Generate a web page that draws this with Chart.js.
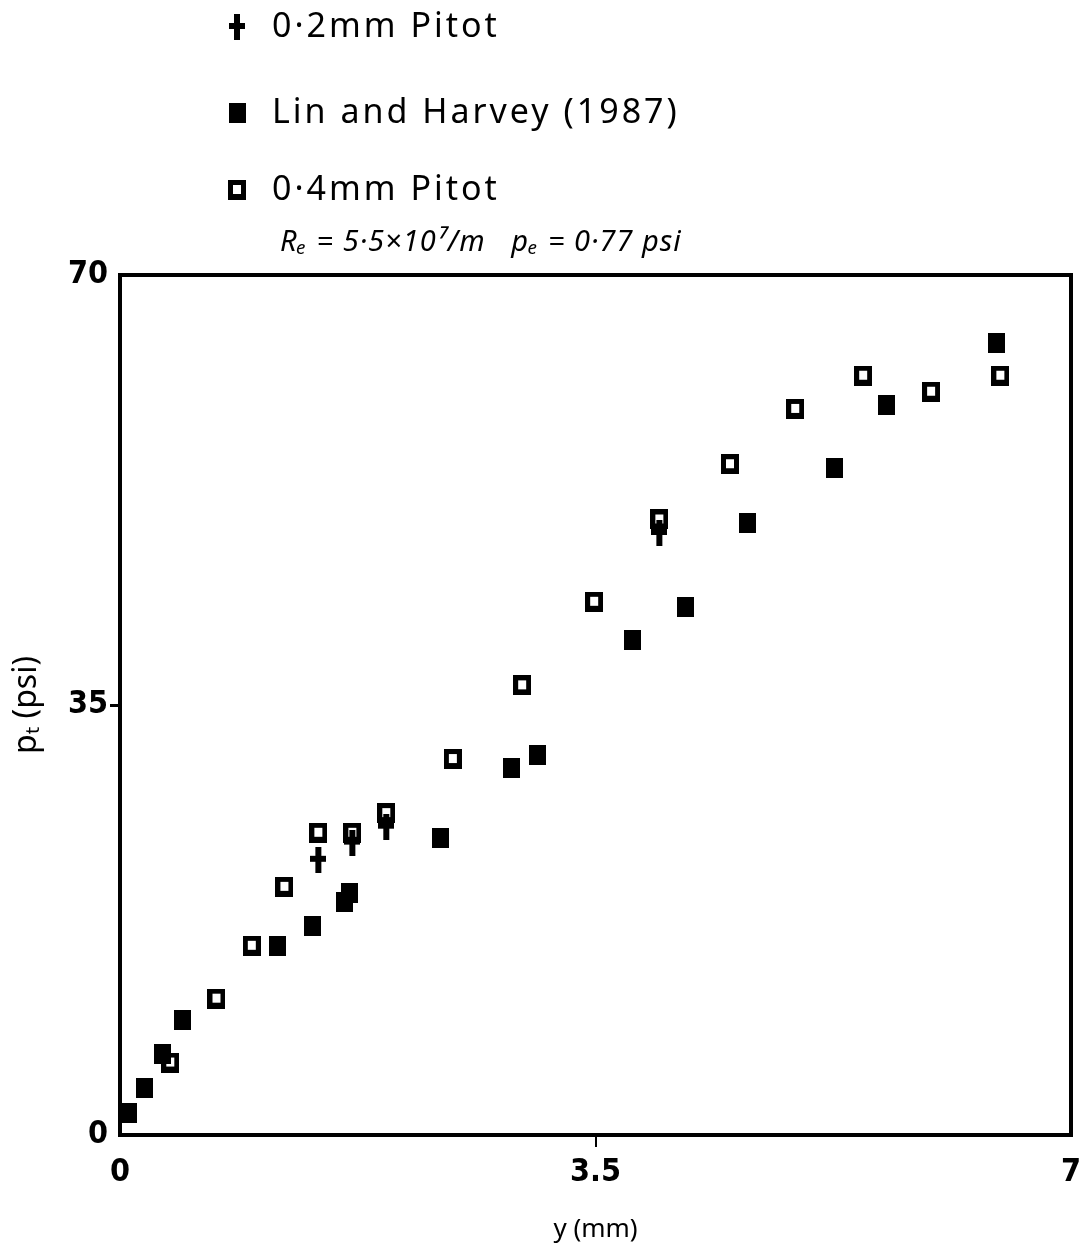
<!DOCTYPE html>
<html>
<head>
<meta charset="utf-8">
<script src="https://cdn.jsdelivr.net/npm/chart.js@4/dist/chart.umd.min.js"></script>
<style>
  html, body { margin: 0; padding: 0; background: #fff; }
  #wrap { width: 1088px; height: 1255px; position: relative; }
</style>
</head>
<body>
<div id="wrap"><canvas id="pitot-chart"></canvas></div>
<script>
// values: y (mm) vs total pressure (psi)
const pitot02X = [1.46, 1.71, 1.96, 3.97];
const pitot02Y = [22.4, 23.8, 25.1, 49.0];

const linHarveyX = [0.06, 0.18, 0.31, 0.46, 1.16, 1.42, 1.65, 1.69, 2.36, 2.88, 3.07, 3.77, 4.16, 4.62, 5.26, 5.64, 6.45];
const linHarveyY = [1.8, 3.8, 6.6, 9.4, 15.4, 17.0, 19.0, 19.7, 24.2, 29.9, 30.9, 40.3, 43.0, 49.8, 54.3, 59.4, 64.5];

const pitot04X = [0.37, 0.71, 0.97, 1.21, 1.46, 1.71, 1.96, 2.45, 2.96, 3.49, 3.97, 4.49, 4.97, 5.47, 5.97, 6.48];
const pitot04Y = [5.9, 11.1, 15.4, 20.2, 24.6, 24.6, 26.2, 30.6, 36.6, 43.4, 50.1, 54.6, 59.1, 61.8, 60.5, 61.8];

const xTicks = [0, 3.5, 7];
const yTicks = [0, 35, 70];
const xTickLabels = ['0', '3.5', '7'];
const yTickLabels = ['0', '35', '70'];

const seriesNames = ['0\u00B72mm Pitot', 'Lin and Harvey (1987)', '0\u00B74mm Pitot'];
const conditionText = 'R\u2091 = 5\u00B75\u00D710\u2077/m   p\u2091 = 0\u00B777 psi';

const ink = '#000';
const tickFamily = '"DejaVu Sans Condensed", "Liberation Sans Narrow", "DejaVu Sans", sans-serif';

const makeMarker = (w, h, draw) => {
  const c = document.createElement('canvas');
  c.width = w;
  c.height = h;
  draw(c.getContext('2d'));
  return c;
};

const filledSquare = makeMarker(17, 20, (ctx) => {
  ctx.fillStyle = ink;
  ctx.fillRect(0, 0, 17, 20);
});

const openSquare = makeMarker(18, 20, (ctx) => {
  ctx.fillStyle = ink;
  ctx.fillRect(0, 0, 18, 20);
  ctx.fillStyle = '#fff';
  ctx.fillRect(5, 5, 8, 9);
});

const crossMark = makeMarker(16, 26, (ctx) => {
  ctx.fillStyle = ink;
  ctx.fillRect(5, 0, 6, 26);
  ctx.fillRect(0, 9, 16, 6);
});

const toPoints = (xs, ys) => xs.map((x, i) => ({ x, y: ys[i] }));

const frameAndLegend = {
  id: 'frameAndLegend',
  afterDraw(chart) {
    const { ctx, chartArea } = chart;
    ctx.save();
    ctx.strokeStyle = ink;
    ctx.lineWidth = 4;
    ctx.strokeRect(chartArea.left, chartArea.top, chartArea.right - chartArea.left, chartArea.bottom - chartArea.top);

    const rows = [
      { img: crossMark, y: 27 },
      { img: filledSquare, y: 113 },
      { img: openSquare, y: 190 },
    ];
    ctx.fillStyle = ink;
    ctx.textBaseline = 'middle';
    ctx.font = '34px "Noto Sans"';
    ctx.letterSpacing = '3px';
    rows.forEach((row, i) => {
      ctx.drawImage(row.img, 237 - row.img.width / 2, row.y - row.img.height / 2);
      ctx.fillText(seriesNames[i], 272, row.y);
    });
    ctx.font = 'italic 29px "Noto Sans"';
    ctx.letterSpacing = '1px';
    ctx.fillText(conditionText, 280, 243);
    ctx.restore();
  },
};

const tickColor = (ctx, inner) =>
  ctx.tick && inner.includes(ctx.tick.value) ? ink : 'rgba(0,0,0,0)';

new Chart(document.getElementById('pitot-chart'), {
  type: 'scatter',
  data: {
    datasets: [
      {
        label: seriesNames[0],
        data: toPoints(pitot02X, pitot02Y),
        pointStyle: crossMark,
      },
      {
        label: seriesNames[1],
        data: toPoints(linHarveyX, linHarveyY),
        pointStyle: filledSquare,
      },
      {
        label: seriesNames[2],
        data: toPoints(pitot04X, pitot04Y),
        pointStyle: openSquare,
      },
    ],
  },
  options: {
    responsive: true,
    maintainAspectRatio: false,
    animation: false,
    layout: {
      padding: { left: 0, right: 17, top: 275, bottom: 0 },
    },
    plugins: {
      legend: { display: false },
      tooltip: { enabled: false },
    },
    scales: {
      x: {
        type: 'linear',
        min: 0,
        max: 7,
        afterBuildTicks: (scale) => {
          scale.ticks = xTicks.map((value) => ({ value }));
        },
        afterFit: (scale) => {
          scale.height = 120;
        },
        grid: {
          drawOnChartArea: false,
          tickLength: 12,
          lineWidth: 2,
          color: (ctx) => tickColor(ctx, [3.5]),
        },
        border: { display: false },
        ticks: {
          padding: 6,
          color: ink,
          maxRotation: 0,
          font: { family: tickFamily, weight: 'bold', size: 32 },
          callback: (value) => xTickLabels[xTicks.indexOf(value)],
        },
        title: {
          display: true,
          text: 'y (mm)',
          color: ink,
          font: { family: 'Noto Sans', size: 26 },
          padding: { top: 0, bottom: 10 },
        },
      },
      y: {
        type: 'linear',
        min: 0,
        max: 70,
        afterBuildTicks: (scale) => {
          scale.ticks = yTicks.map((value) => ({ value }));
        },
        afterFit: (scale) => {
          scale.width = 120;
        },
        grid: {
          drawOnChartArea: false,
          tickLength: 10,
          lineWidth: 3,
          color: (ctx) => tickColor(ctx, [35]),
        },
        border: { display: false },
        ticks: {
          padding: 2,
          color: ink,
          font: { family: tickFamily, weight: 'bold', size: 32 },
          callback: (value) => yTickLabels[yTicks.indexOf(value)],
        },
        title: {
          display: true,
          text: 'p\u209C (psi)',
          color: ink,
          font: { family: 'Noto Sans', size: 32 },
          padding: { top: 8, bottom: 0 },
        },
      },
    },
  },
  plugins: [frameAndLegend],
});
</script>
</body>
</html>
